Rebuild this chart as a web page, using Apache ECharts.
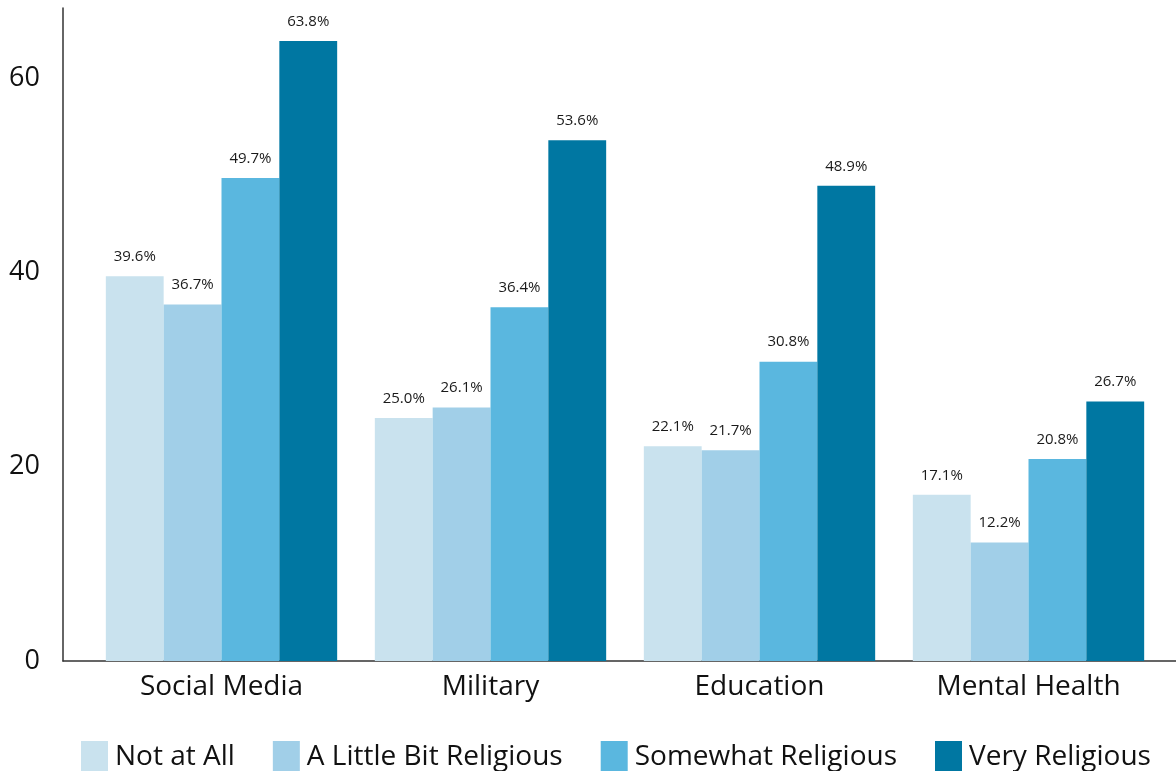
<!DOCTYPE html>
<html>
<head>
<meta charset="utf-8">
<script src="https://cdn.jsdelivr.net/npm/echarts@6/dist/echarts.min.js"></script>
<style>
  html, body { margin: 0; padding: 0; background: #fff; }
  #chart { width: 1176px; height: 771px; }
</style>
</head>
<body>
<div id="chart"></div>
<script>
// data
const categories = ['Social Media', 'Military', 'Education', 'Mental Health'];
const seriesNames = ['Not at All', 'A Little Bit Religious', 'Somewhat Religious', 'Very Religious'];
const notAtAll = [39.6, 25.0, 22.1, 17.1];
const littleBit = [36.7, 26.1, 21.7, 12.2];
const somewhat = [49.7, 36.4, 30.8, 20.8];
const very = [63.8, 53.6, 48.9, 26.7];
const yTicks = [0, 20, 40, 60];

const COLORS = ['#C9E2EE', '#A1CFE8', '#5AB7DF', '#0077A2'];
const FONT = '"Open Sans", "Noto Sans", sans-serif';
const Y_MAX = 67.2;

const chart = echarts.init(document.getElementById('chart'));

function barSeries(name, data, i) {
  return {
    type: 'bar',
    name: name,
    data: data,
    xAxisIndex: 1,
    yAxisIndex: 1,
    barGap: 0,
    barCategoryGap: '14%',
    itemStyle: { color: COLORS[i] },
    label: {
      show: true,
      position: 'top',
      distance: 12,
      formatter: p => p.value.toFixed(1) + '%',
      fontFamily: FONT,
      fontSize: 15,
      color: '#1a1a1a'
    }
  };
}

chart.setOption({
  animation: false,
  textStyle: { fontFamily: FONT },
  legend: {
    left: 76,
    top: 736,
    itemWidth: 27,
    itemHeight: 32,
    itemGap: 38,
    icon: 'rect',
    textStyle: { fontSize: 28, color: '#111', fontFamily: FONT, padding: [0, 0, 0, 2] },
    data: seriesNames
  },
  grid: [
    // frame grid: axis lines
    { left: 63, right: 0, top: 8, bottom: 110 },
    // bar grid
    { left: 87, right: 13, top: 8, bottom: 110 }
  ],
  xAxis: [{
    gridIndex: 0,
    type: 'value',
    min: 0,
    max: 1,
    axisLine: { show: true, onZero: false, lineStyle: { color: '#333', width: 1.5 } },
    axisTick: { show: false },
    axisLabel: { show: false },
    splitLine: { show: false }
  }, {
    gridIndex: 1,
    type: 'category',
    data: categories,
    axisLine: { show: false },
    axisTick: { show: false },
    axisLabel: { fontSize: 28, color: '#111', margin: 12, fontFamily: FONT }
  }],
  yAxis: [{
    gridIndex: 0,
    type: 'value',
    min: 0,
    max: Y_MAX,
    interval: 20,
    axisLine: { show: true, lineStyle: { color: '#333', width: 1.5 } },
    axisTick: { show: false },
    splitLine: { show: false },
    axisLabel: {
      fontSize: 27,
      color: '#111',
      margin: 23,
      fontFamily: FONT,
      formatter: v => yTicks.includes(v) ? String(v) : ''
    }
  }, {
    gridIndex: 1,
    type: 'value',
    min: 0,
    max: Y_MAX,
    show: false
  }],
  series: [
    barSeries(seriesNames[0], notAtAll, 0),
    barSeries(seriesNames[1], littleBit, 1),
    barSeries(seriesNames[2], somewhat, 2),
    barSeries(seriesNames[3], very, 3)
  ]
});
</script>
</body>
</html>
